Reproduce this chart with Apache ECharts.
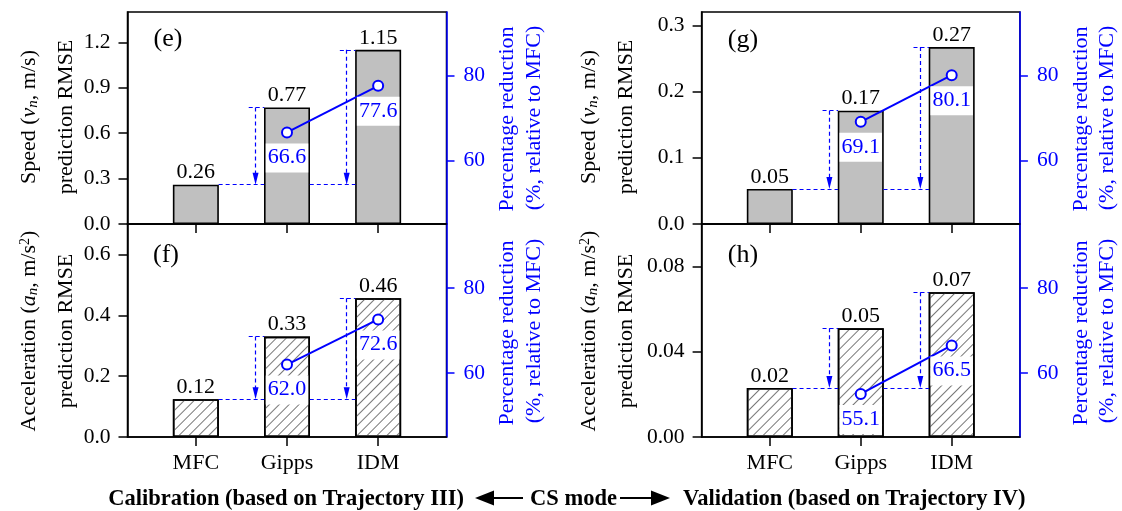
<!DOCTYPE html>
<html><head><meta charset="utf-8">
<script src="https://cdn.jsdelivr.net/npm/echarts@6/dist/echarts.min.js"></script>
<style>html,body{margin:0;padding:0;background:#fff}#c{width:1122px;height:511px}</style>
</head><body><div id="c"></div>
<script>
// ---- data ----
const categories = ['MFC', 'Gipps', 'IDM'];
const speedCal = [0.26, 0.77, 1.15];
const accCal = [0.124, 0.33, 0.456];
const speedVal = [0.053, 0.171, 0.267];
const accVal = [0.023, 0.051, 0.068];
const redSpeedCal = [null, 66.6, 77.6];
const redAccCal = [null, 62.0, 72.6];
const redSpeedVal = [null, 69.1, 80.1];
const redAccVal = [null, 55.1, 66.5];
const ticksSpeedCal = [0, 0.3, 0.6, 0.9, 1.2];
const ticksAccCal = [0, 0.2, 0.4, 0.6];
const ticksSpeedVal = [0, 0.1, 0.2, 0.3];
const ticksAccVal = [0, 0.04, 0.08];
const ticksRed = [60, 80];
const catPos = [1, 2, 3];

const FONT = '"Liberation Serif", "Times New Roman", serif';
const BLUE = '#0000ff';

const panels = [
  {grid: {left: 127.5, top: 12, width: 319, height: 212}, bars: speedCal, red: redSpeedCal, yMax: 1.4, ticks: ticksSpeedCal, dec: 1, hatch: false, showX: false},
  {grid: {left: 127.5, top: 224, width: 319, height: 213}, bars: accCal, red: redAccCal, yMax: 0.7, ticks: ticksAccCal, dec: 1, hatch: true, showX: true},
  {grid: {left: 701.6, top: 12, width: 318.3, height: 212}, bars: speedVal, red: redSpeedVal, yMax: 0.32, ticks: ticksSpeedVal, dec: 1, hatch: false, showX: false},
  {grid: {left: 701.6, top: 224, width: 318.3, height: 213}, bars: accVal, red: redAccVal, yMax: 0.1, ticks: ticksAccVal, dec: 2, hatch: true, showX: true}
];

const grid = [], xAxis = [], yAxis = [], series = [];
const HW = 0.25;
panels.forEach((p, i) => {
  grid.push(Object.assign({show: true, borderColor: '#000', borderWidth: 1.5, backgroundColor: 'transparent'}, p.grid));
  xAxis.push({
    type: 'value', gridIndex: i, min: 0.25, max: 3.75,
    axisLine: {show: true, onZero: false, lineStyle: {color: '#000', width: 1.5}},
    axisTick: {show: true, customValues: catPos, length: 9, lineStyle: {color: '#000', width: 1.5}},
    axisLabel: {show: p.showX, customValues: catPos, formatter: v => categories[Math.round(v) - 1],
      fontFamily: FONT, fontSize: 22, color: '#000', margin: 15},
    splitLine: {show: false}
  });
  yAxis.push({
    type: 'value', gridIndex: i, min: 0, max: p.yMax, position: 'left',
    axisLine: {show: true, onZero: false, lineStyle: {color: '#000', width: 1.5}},
    axisTick: {show: true, customValues: p.ticks, length: 9, lineStyle: {color: '#000', width: 1.5}},
    axisLabel: {customValues: p.ticks, formatter: v => v.toFixed(p.dec), fontFamily: FONT, fontSize: 21.5, color: '#000', margin: 17},
    splitLine: {show: false}
  });
  yAxis.push({
    type: 'value', gridIndex: i, min: 45, max: 95, position: 'right',
    axisLine: {show: true, onZero: false, lineStyle: {color: BLUE, width: 1.5}},
    axisTick: {show: true, customValues: ticksRed, length: 8, lineStyle: {color: BLUE, width: 1.5}},
    axisLabel: {customValues: ticksRed, fontFamily: FONT, fontSize: 21.5, color: BLUE, margin: 17},
    splitLine: {show: false}
  });
  const mfc = p.bars[0];
  const tipOff = 6 * p.yMax / p.grid.height; // keeps the arrow tip at the MFC level
  const ml = [
    [{coord: [catPos[0] + HW, mfc]}, {coord: [catPos[1] - HW, mfc]}],
    [{coord: [catPos[1] + HW, mfc]}, {coord: [catPos[2] - HW, mfc]}]
  ];
  [1, 2].forEach(k => {
    const left = catPos[k] - HW;
    ml.push([{coord: [left - 0.17, p.bars[k]]}, {coord: [left, p.bars[k]]}]);
    ml.push([{coord: [left - 0.095, p.bars[k]]}, {coord: [left - 0.095, mfc + tipOff], symbol: 'triangle', symbolSize: [6, 12]}]);
  });
  series.push({
    type: 'bar', xAxisIndex: i, yAxisIndex: 2 * i, barWidth: 46,
    data: p.bars.map((v, k) => [catPos[k], v]),
    itemStyle: {
      color: p.hatch ? '#fff' : '#c0c0c0', borderColor: '#000', borderWidth: 1.6,
      decal: p.hatch ? {symbol: 'rect', symbolSize: 1, dashArrayX: [1, 0], dashArrayY: [1, 6], rotation: -Math.PI / 4, color: '#777'} : null
    },
    label: {show: true, position: 'top', distance: 1, formatter: q => q.value[1].toFixed(2), fontFamily: FONT, fontSize: 22, color: '#000'},
    markLine: {
      silent: true, symbol: ['none', 'none'], label: {show: false},
      lineStyle: {color: BLUE, type: [4, 3], width: 1.2},
      data: ml
    }
  });
  series.push({
    type: 'line', xAxisIndex: i, yAxisIndex: 2 * i + 1, z: 6,
    data: p.red.map((v, k) => v == null ? null : [catPos[k], v]).filter(d => d),
    symbol: 'circle', symbolSize: 10,
    itemStyle: {color: '#fff', borderColor: BLUE, borderWidth: 2},
    lineStyle: {color: BLUE, width: 2},
    label: {show: true, position: 'bottom', distance: 5, formatter: q => q.value[1].toFixed(1),
      fontFamily: FONT, fontSize: 22, color: BLUE, backgroundColor: '#fff', padding: [3, 2, 4, 2]}
  });
});

function txt(x, y, text, opts) {
  return Object.assign({type: 'text', x: x, y: y, silent: true,
    style: Object.assign({text: text, font: '22px ' + FONT, fill: '#000', align: 'center', verticalAlign: 'middle'}, opts && opts.style || {})},
    opts && opts.el || {});
}
const rot = Math.PI / 2;
const richBase = {
  n: {fontSize: 22, fontFamily: FONT, fill: '#000'},
  i: {fontSize: 22, fontFamily: FONT, fontStyle: 'italic', fill: '#000'},
  s: {fontSize: 15, fontFamily: FONT, fontStyle: 'italic', fill: '#000', verticalAlign: 'bottom'},
  p: {fontSize: 14, fontFamily: FONT, fill: '#000', verticalAlign: 'top'}
};
const speedName = '{n|Speed (}{i|v}{s|n}{n|, m/s)}';
const accName = '{n|Acceleration (}{i|a}{s|n}{n|, m/s}{p|2}{n|)}';
const graphic = [];
[[0, 0], [560, 573.5]].forEach(([dl, dr]) => {
  graphic.push({type: 'text', x: 29.5 + dl, y: 117, rotation: rot, silent: true, style: {text: speedName, rich: richBase, align: 'center', verticalAlign: 'middle'}});
  graphic.push(txt(66.5 + dl, 117, 'prediction RMSE', {el: {rotation: rot}}));
  graphic.push({type: 'text', x: 29.5 + dl, y: 331, rotation: rot, silent: true, style: {text: accName, rich: richBase, align: 'center', verticalAlign: 'middle'}});
  graphic.push(txt(66.5 + dl, 331, 'prediction RMSE', {el: {rotation: rot}}));
  graphic.push(txt(507.5 + dr, 119, 'Percentage reduction', {el: {rotation: rot}, style: {fill: BLUE}}));
  graphic.push(txt(534 + dr, 118, '(%, relative to MFC)', {el: {rotation: rot}, style: {fill: BLUE}}));
  graphic.push(txt(507.5 + dr, 333, 'Percentage reduction', {el: {rotation: rot}, style: {fill: BLUE}}));
  graphic.push(txt(534 + dr, 331, '(%, relative to MFC)', {el: {rotation: rot}, style: {fill: BLUE}}));
});
const letFont = '26px ' + FONT;
graphic.push(txt(168, 39, '(e)', {style: {font: letFont}}));
graphic.push(txt(166, 255, '(f)', {style: {font: letFont}}));
graphic.push(txt(743, 40, '(g)', {style: {font: letFont}}));
graphic.push(txt(743, 255, '(h)', {style: {font: letFont}}));
const capFont = 'bold 22.5px ' + FONT;
graphic.push(txt(464, 499, 'Calibration (based on Trajectory III)', {style: {font: capFont, align: 'right'}}));
graphic.push(txt(573.5, 499, 'CS mode', {style: {font: capFont}}));
graphic.push(txt(683, 499, 'Validation (based on Trajectory IV)', {style: {font: capFont, align: 'left'}}));
graphic.push({type: 'line', silent: true, shape: {x1: 490, y1: 498, x2: 523, y2: 498}, style: {stroke: '#000', lineWidth: 2}});
graphic.push({type: 'polygon', silent: true, shape: {points: [[475, 498], [494, 490.5], [494, 505.5]]}, style: {fill: '#000'}});
graphic.push({type: 'line', silent: true, shape: {x1: 620, y1: 498, x2: 653, y2: 498}, style: {stroke: '#000', lineWidth: 2}});
graphic.push({type: 'polygon', silent: true, shape: {points: [[670, 498], [651, 490.5], [651, 505.5]]}, style: {fill: '#000'}});

const chart = echarts.init(document.getElementById('c'), null, {renderer: 'canvas'});
chart.setOption({animation: false, backgroundColor: '#fff', grid, xAxis, yAxis, series, graphic});
</script></body></html>
